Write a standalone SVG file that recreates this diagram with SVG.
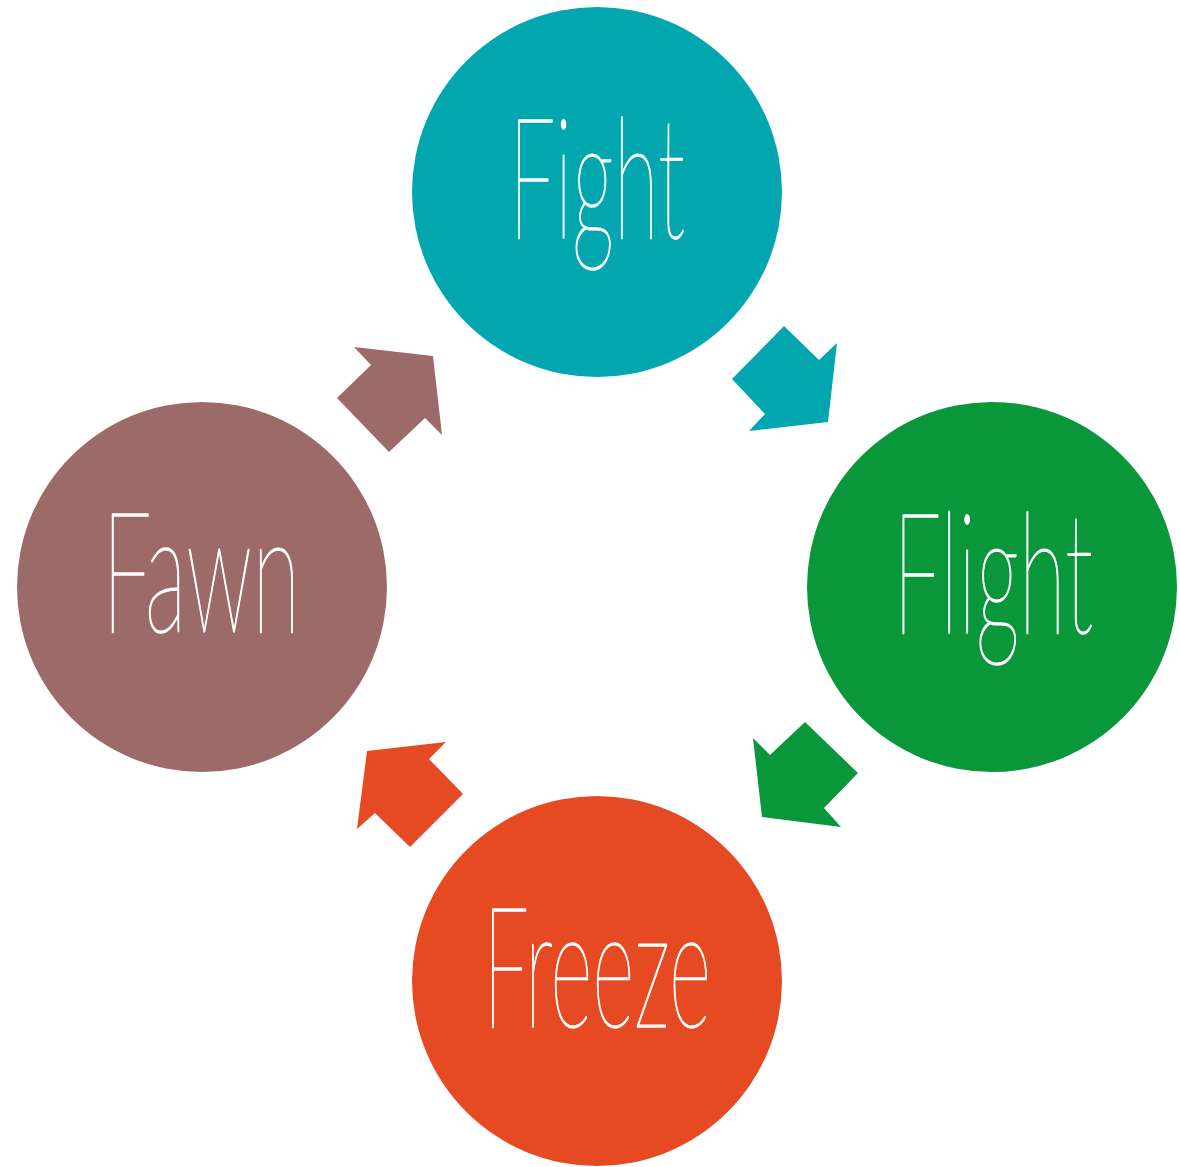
<svg xmlns="http://www.w3.org/2000/svg" width="1180" height="1167" viewBox="0 0 1180 1167">
<style>
.lbl{font-family:"Lato","Open Sans","Liberation Sans",sans-serif;font-weight:100;font-size:168px;fill:#ffffff;stroke:#ffffff;stroke-width:1.6;stroke-linejoin:round;}
</style>
<rect width="1180" height="1167" fill="#ffffff"/>
<g id="connectors">
<polygon points="784,326 819,360 837,343 828,422 749,431 765,414 732,379" fill="#01A6AE"/>
<polygon points="753,738 770,755 805,722 858,773 824,808 841,827 762,817" fill="#0A963B"/>
<polygon points="446,742 429,759 463,794 410,847 375,813 357,829 367,751" fill="#E64A23"/>
<polygon points="354,347 371,365 337,398 389,452 425,418 442,435 433,356" fill="#9C6B69"/>
</g>
<g id="fight">
<circle cx="597" cy="192" r="185" fill="#01A6AE"/>
<text class="lbl" x="509" y="238" textLength="176" lengthAdjust="spacingAndGlyphs">Fight</text>
</g>
<g id="flight">
<circle cx="992" cy="587" r="185" fill="#0A963B"/>
<text class="lbl" x="893" y="633" textLength="200" lengthAdjust="spacingAndGlyphs">Flight</text>
</g>
<g id="freeze">
<circle cx="597" cy="981" r="185" fill="#E64A23"/>
<text class="lbl" x="483" y="1027" textLength="228" lengthAdjust="spacingAndGlyphs">Freeze</text>
</g>
<g id="fawn">
<circle cx="202" cy="587" r="185" fill="#9C6B69"/>
<text class="lbl" x="102" y="632" textLength="198" lengthAdjust="spacingAndGlyphs">Fawn</text>
</g>
</svg>
